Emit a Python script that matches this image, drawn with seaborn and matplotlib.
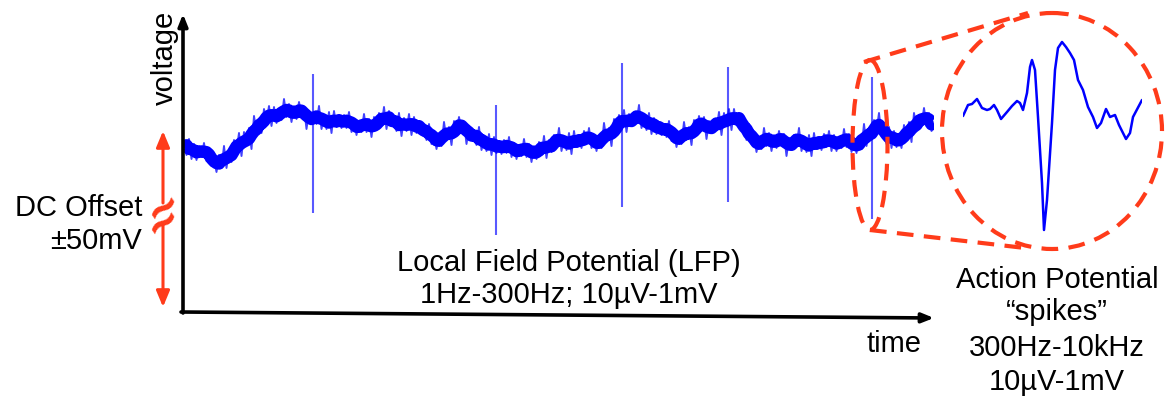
import numpy as np
import pandas as pd
import matplotlib
matplotlib.use('Agg')
import matplotlib.pyplot as plt
from matplotlib.patches import Ellipse
import seaborn as sns

# LFP trace, one reading every 2.5 px of the original (arbitrary units, up = positive)
lfp = [8, -5, 11, -9, 6, -10, 4, -7, 7, -11, 2, -16, -9, -22, -5, -18,
       4, -18, 0, -12, 10, -1, 17, -6, 18, 5, 22, 1, 34, 18, 30, 17,
       41, 28, 44, 24, 43, 27, 41, 30, 51, 33, 46, 28, 44, 31, 48, 35,
       43, 21, 39, 27, 37, 26, 44, 21, 34, 21, 38, 17, 39, 23, 35, 22,
       35, 22, 38, 18, 31, 15, 29, 18, 36, 18, 31, 13, 33, 20, 37, 24,
       43, 21, 39, 27, 30, 19, 37, 14, 32, 19, 36, 15, 33, 17, 29, 16,
       23, 10, 26, 6, 17, 1, 15, 4, 28, 10, 23, 5, 29, 16, 33, 20,
       28, 6, 24, 12, 16, 5, 23, 0, 12, -1, 16, -5, 13, -3, 9, -4,
       10, -3, 13, -7, 7, -9, 5, -6, 11, -7, 6, -12, 4, -9, 8, -5,
       14, -8, 10, -2, 15, 4, 22, -1, 13, 0, 17, -4, 19, 3, 15, 2,
       19, 6, 22, 2, 15, -1, 13, 2, 27, 9, 22, 4, 31, 18, 35, 22,
       40, 18, 36, 24, 38, 27, 45, 22, 33, 20, 37, 16, 32, 16, 28, 15,
       26, 13, 29, 9, 19, 3, 17, 6, 28, 10, 23, 5, 30, 17, 34, 21,
       33, 11, 29, 17, 31, 20, 38, 15, 37, 24, 41, 20, 41, 25, 37, 24,
       23, 10, 26, 6, 14, -2, 12, 1, 22, 4, 17, -1, 15, 2, 19, 6,
       16, -6, 12, 0, 15, 4, 22, -1, 11, -2, 15, -6, 17, 1, 13, 0,
       16, 3, 19, -1, 15, -1, 13, 2, 21, 3, 16, -2, 10, -3, 14, 1,
       26, 4, 22, 10, 30, 19, 37, 14, 19, 6, 23, 2, 19, 3, 15, 2,
       25, 12, 28, 8, 37, 21, 35, 24, 42, 24, 37, 19, 23]

# spikes riding on the LFP (time in trace samples)
spike_t = [51.6, 124.8, 175.2, 217.6, 275.2]
spike_top = [76, 45, 87, 83, 73]
spike_bottom = [-63, -85, -57, -52, -69]

# zoomed action potential waveform
ap_t = [0, 5, 9, 14, 19, 24, 27, 31, 34, 38, 44, 49, 54, 57, 60, 64, 67, 69, 72, 75,
        79, 81, 84, 89, 92, 95, 99, 103, 107, 111, 115, 120, 125, 130, 134, 138, 143,
        147, 152, 156, 163, 167, 170, 179]
ap_v = [-6, 5, 6, 11, 2, 0, 1, 5, 0, -9, -2, 4, 9, 7, 0, 17, 43, 50, 40, -7,
        -73, -120, -90, -13, 40, 62, 68, 63, 57, 50, 30, 20, 3, -7, -18, -13, 1,
        -7, -5, -15, -29, -23, -7, 10]

sns.set_theme(style='white')
plt.rcParams['font.family'] = ['Liberation Sans', 'DejaVu Sans']
plt.rcParams['text.color'] = 'black'

W, H = 1168, 398
RED = '#ff3b1a'
BLUE = '#0000ff'
fig = plt.figure(figsize=(W / 100, H / 100), dpi=100)

# main trace
ax = fig.add_axes([184 / W, (H - 312) / H, 750 / W, 297 / H])
df = pd.DataFrame({'t': np.arange(len(lfp)), 'v': lfp})
df['core'] = df['v'].rolling(4, center=True, min_periods=1).mean()
sns.lineplot(data=df, x='t', y='core', ax=ax, color=BLUE, lw=9, solid_capstyle='butt')
sns.lineplot(data=df, x='t', y='v', ax=ax, color=BLUE, lw=1.4, alpha=0.75)
ax.vlines(spike_t, spike_bottom, spike_top, color=BLUE, lw=1.5, alpha=0.65)
ax.set_xlim(0, len(lfp) - 1)
ax.set_ylim(-162, 135)
ax.axis('off')

# action potential inset
ax2 = fig.add_axes([963 / W, (H - 232) / H, 179 / W, 192 / H])
sns.lineplot(x=ap_t, y=ap_v, ax=ax2, color=BLUE, lw=1.8)
ax2.set_xlim(0, 179)
ax2.set_ylim(-122, 70)
ax2.axis('off')

# overlay for annotations, pixel coordinates
ov = fig.add_axes([0, 0, 1, 1])
ov.set_xlim(0, W)
ov.set_ylim(H, 0)
ov.axis('off')
ov.patch.set_alpha(0)

ov.annotate('', xy=(183, 14), xytext=(183, 313),
            arrowprops=dict(arrowstyle='-|>,head_length=0.5,head_width=0.2', lw=2.6,
                            color='black', shrinkA=0, shrinkB=0, mutation_scale=14))
ov.annotate('', xy=(934, 318), xytext=(181, 312),
            arrowprops=dict(arrowstyle='-|>,head_length=0.5,head_width=0.2', lw=2.6,
                            color='black', shrinkA=0, shrinkB=0, mutation_scale=14))

# DC offset arrow with break
arrow_style = '-|>,head_length=0.6,head_width=0.25'
ov.annotate('', xy=(163, 131), xytext=(163, 203),
            arrowprops=dict(arrowstyle=arrow_style, lw=2.2, color=RED,
                            shrinkA=0, shrinkB=0, mutation_scale=16))
ov.annotate('', xy=(163, 307), xytext=(163, 225),
            arrowprops=dict(arrowstyle=arrow_style, lw=2.2, color=RED,
                            shrinkA=0, shrinkB=0, mutation_scale=16))
for yy in (207, 222):
    ov.text(163, yy, '~', color=RED, fontsize=30, fontweight='bold', rotation=35,
            ha='center', va='center', family='DejaVu Sans')

# zoom ellipse, circle and connectors
dash = (0, (4, 2.5))
ov.add_patch(Ellipse((870, 145), 35, 170, fill=False, ec=RED, lw=3, ls=dash))
ov.add_patch(Ellipse((1052, 131), 220, 236, fill=False, ec=RED, lw=3, ls=dash))
ov.plot([864, 1028], [62, 13], color=RED, lw=3, ls=dash)
ov.plot([870, 1025], [230, 248], color=RED, lw=3, ls=dash)

fs = 21
ov.text(165, 58, 'voltage', rotation=90, ha='center', va='center', fontsize=fs)
ov.text(142, 208, 'DC Offset', ha='right', va='center', fontsize=fs)
ov.text(142, 241, '±50mV', ha='right', va='center', fontsize=fs)
ov.text(569, 263, 'Local Field Potential (LFP)', ha='center', va='center', fontsize=fs)
ov.text(569, 295, '1Hz-300Hz; 10µV-1mV', ha='center', va='center', fontsize=fs)
ov.text(894, 344, 'time', ha='center', va='center', fontsize=fs)
for yy, s in zip([280, 312, 348, 382],
                 ['Action Potential', '“spikes”', '300Hz-10kHz', '10µV-1mV']):
    ov.text(1057, yy, s, ha='center', va='center', fontsize=fs)

fig.savefig('out.png', dpi=100)
